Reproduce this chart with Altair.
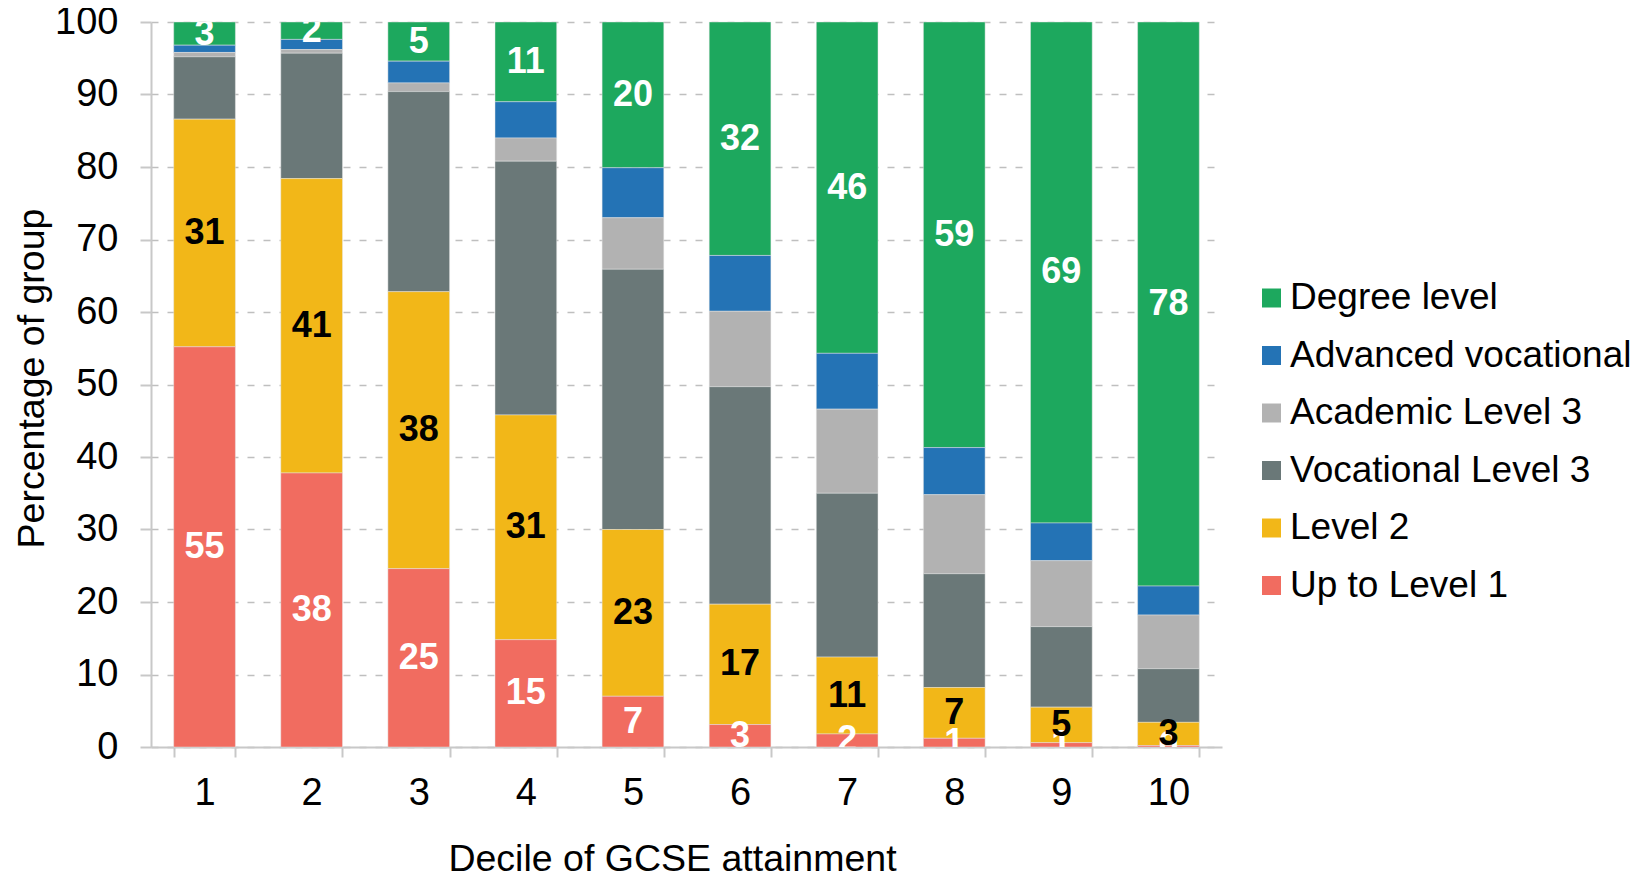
import altair as alt
import pandas as pd

deciles = ["1", "2", "3", "4", "5", "6", "7", "8", "9", "10"]
categories = ["Degree level", "Advanced vocational", "Academic Level 3",
              "Vocational Level 3", "Level 2", "Up to Level 1"]
colors = ["#1DA85E", "#2473B5", "#B2B2B2", "#6A7878", "#F2B718", "#F16C60"]

up_to_level1 = [55.2, 37.8, 24.6, 14.8, 7.0, 3.1, 1.8, 1.2, 0.6, 0.2]
level2 = [31.4, 40.6, 38.2, 31.0, 23.0, 16.6, 10.6, 7.0, 4.9, 3.2]
vocational_l3 = [8.6, 17.3, 27.6, 35.0, 35.9, 30.0, 22.6, 15.7, 11.1, 7.4]
academic_l3 = [0.6, 0.5, 1.2, 3.2, 7.1, 10.4, 11.6, 10.9, 9.1, 7.4]
advanced_voc = [1.0, 1.4, 3.0, 5.0, 6.9, 7.7, 7.7, 6.5, 5.2, 4.0]
degree = [3.2, 2.4, 5.4, 11.0, 20.1, 32.2, 45.7, 58.7, 69.1, 77.8]

series = {
    "Degree level": degree,
    "Advanced vocational": advanced_voc,
    "Academic Level 3": academic_l3,
    "Vocational Level 3": vocational_l3,
    "Level 2": level2,
    "Up to Level 1": up_to_level1,
}

rows = []
for ci, cat in enumerate(categories):
    for d, v in zip(deciles, series[cat]):
        rows.append({"decile": d, "category": cat,
                     "stack_order": len(categories) - 1 - ci, "value": v})
df = pd.DataFrame(rows)

FONT = "Liberation Sans"
AX = "#C8C8C8"

x_axis = alt.Axis(labelAngle=0, tickBand="extent", tickSize=10, tickColor=AX,
                  tickWidth=2, domainColor=AX, domainWidth=2, labelFontSize=38,
                  labelPadding=17, grid=False, title="Decile of GCSE attainment",
                  titleFontSize=37.5, titleX=521, titleY=123, titleAlign="center",
                  titleBaseline="alphabetic")
y_axis = alt.Axis(values=list(range(0, 101, 10)), grid=True, gridDash=[7, 9],
                  gridColor="#BFBFBF", gridWidth=1.5, tickSize=11, tickColor=AX,
                  tickWidth=2, domainColor=AX, domainWidth=2, labelFontSize=38,
                  labelPadding=22, title="Percentage of group", titleFontSize=37.5,
                  titleX=-119, titleY=356, titleAngle=270, titleAlign="center",
                  titleBaseline="middle")

x_enc = alt.X("decile:N", sort=deciles,
              scale=alt.Scale(paddingInner=0.424, paddingOuter=0.212), axis=x_axis)
y_scale = alt.Scale(domain=[0, 100], nice=False)

base = alt.Chart(df).transform_stack(
    stack="value", groupby=["decile"], as_=["y0", "y1"],
    sort=[alt.SortField("stack_order", order="ascending")]
).transform_calculate(mid="(datum.y0 + datum.y1) / 2")

bars = base.mark_bar(stroke="#e6e6e6", strokeWidth=0.8, strokeOpacity=0.6).encode(
    x=x_enc,
    y=alt.Y("y0:Q", scale=y_scale, axis=y_axis),
    y2="y1:Q",
    color=alt.Color("category:N",
                    scale=alt.Scale(domain=categories, range=colors),
                    legend=alt.Legend(orient="none", legendX=1102, legendY=257.5,
                                      title=None, symbolType="square",
                                      symbolSize=361, symbolStrokeWidth=0,
                                      symbolOpacity=1, labelFontSize=37,
                                      labelFont=FONT, labelColor="black",
                                      labelOffset=0, rowPadding=19.5,
                                      labelLimit=600)),
)

white_labels = base.transform_filter(
    alt.FieldOneOfPredicate(field="category", oneOf=["Up to Level 1", "Degree level"])
).mark_text(font=FONT, fontWeight="bold", fontSize=36, color="white",
            align="center", baseline="middle", clip=True).encode(
    x=x_enc,
    y=alt.Y("mid:Q", scale=y_scale, axis=y_axis),
    text=alt.Text("value:Q", format=".0f"),
)

black_labels = base.transform_filter(
    alt.FieldOneOfPredicate(field="category", oneOf=["Level 2"])
).mark_text(font=FONT, fontWeight="bold", fontSize=36, color="black",
            align="center", baseline="middle", clip=True).encode(
    x=x_enc,
    y=alt.Y("mid:Q", scale=y_scale, axis=y_axis),
    text=alt.Text("value:Q", format=".0f"),
)

chart = alt.layer(bars, white_labels, black_labels).properties(
    width=1071, height=725,
    autosize=alt.AutoSizeParams(type="none"),
    padding={"left": 143, "top": 14, "right": 421, "bottom": 124},
    background="white",
).configure_axis(
    labelFont=FONT, titleFont=FONT, labelColor="black", titleColor="black",
    titleFontWeight="normal",
).configure_view(strokeWidth=0)

chart.save("out.html", embed_options={"renderer": "svg", "actions": False})
